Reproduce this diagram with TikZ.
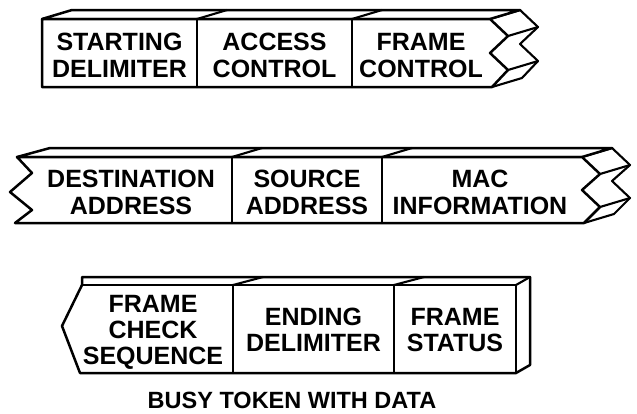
\documentclass[tikz,border=0pt]{standalone}
\usepackage{fontspec}
\setmainfont{Liberation Sans}
\begin{document}
\begin{tikzpicture}[x=1pt,y=-1pt,
  outline/.style={line width=2.5pt, line join=round, line cap=round, fill=white},
  seam/.style={line width=2.1pt, line cap=round, line join=round},
  lbl/.style={font=\fontsize{25}{27}\selectfont\bfseries, anchor=base, inner sep=0pt},
  titlelbl/.style={font=\fontsize{23.5}{26}\selectfont\bfseries, anchor=base, inner sep=0pt}]
\useasboundingbox[fill=white] (0,0) rectangle (637,413);

% ---------- Row 1 ----------
% back edge of the torn end (offset 30,-9)
\coordinate (r1b0) at (520,10);
\draw[seam, fill=white] (r1b0) -- (538,27) -- (520,44) -- (538,61) -- (522,78) -- (492,87) -- (490,19) -- cycle;
\draw[seam] (508,36) -- (538,27);
\draw[seam] (508,70) -- (538,61);
% top face
\draw[outline] (42,19) -- (72,10) -- (r1b0) -- (490,19) -- cycle;
% front face
\draw[outline] (42,19) -- (490,19) -- (508,36) -- (490,53) -- (508,70) -- (492,87) -- (42,87) -- cycle;
\draw[seam] (197,19) -- (197,87);
\draw[seam] (197,19) -- (227,10);
\draw[seam] (352,19) -- (352,87);
\draw[seam] (352,19) -- (382,10);
\node[lbl] (sd1) at (119.5,50) {STARTING};
\node[lbl] (sd2) at (119.5,77) {DELIMITER};
\node[lbl] (ac1) at (274.5,50) {ACCESS};
\node[lbl] (ac2) at (274.5,77) {CONTROL};
\node[lbl] (fc1) at (421,50) {FRAME};
\node[lbl] (fc2) at (421,77) {CONTROL};

% ---------- Row 2 ----------
\coordinate (r2b0) at (612,148);
\draw[seam, fill=white] (r2b0) -- (630,165) -- (612,181) -- (630,198) -- (614,214) -- (584,223) -- (582,157) -- cycle;
\draw[seam] (600,174) -- (630,165);
\draw[seam] (600,207) -- (630,198);
\draw[outline] (17,157) -- (50,148) -- (r2b0) -- (582,157) -- cycle;
\draw[outline] (17,157) -- (582,157) -- (600,174) -- (582,190) -- (600,207) -- (584,223)
  -- (15,223) -- (32,210) -- (10,192) -- (32,173) -- cycle;
\draw[seam] (232,157) -- (232,223);
\draw[seam] (232,157) -- (262,148);
\draw[seam] (382,157) -- (382,223);
\draw[seam] (382,157) -- (412,148);
\node[lbl] (da1) at (131,187) {DESTINATION};
\node[lbl] (da2) at (131,214) {ADDRESS};
\node[lbl] (sa1) at (307,187) {SOURCE};
\node[lbl] (sa2) at (307,214) {ADDRESS};
\node[lbl] (mi1) at (480,187) {MAC};
\node[lbl] (mi2) at (480,214) {INFORMATION};

% ---------- Row 3 ----------
\draw[outline] (82,277) -- (530,277) -- (530,365) -- (516,373) -- (80,373) -- (62,326) -- (82,285) -- cycle;
\draw[seam] (82,285) -- (516,285);
\draw[seam] (516,285) -- (516,373);
\draw[seam] (516,285) -- (530,277);
\draw[seam] (233,285) -- (233,373);
\draw[seam] (233,285) -- (263,277);
\draw[seam] (394,285) -- (394,373);
\draw[seam] (394,285) -- (424,277);
\node[lbl] (fcs1) at (153,312) {FRAME};
\node[lbl] (fcs2) at (153,338) {CHECK};
\node[lbl] (fcs3) at (153,364) {SEQUENCE};
\node[lbl] (ed1) at (313.5,325) {ENDING};
\node[lbl] (ed2) at (313.5,351) {DELIMITER};
\node[lbl] (fs1) at (455,325) {FRAME};
\node[lbl] (fs2) at (455,351) {STATUS};

\node[titlelbl] (title) at (292,408) {BUSY TOKEN WITH DATA};
\end{tikzpicture}
\end{document}
